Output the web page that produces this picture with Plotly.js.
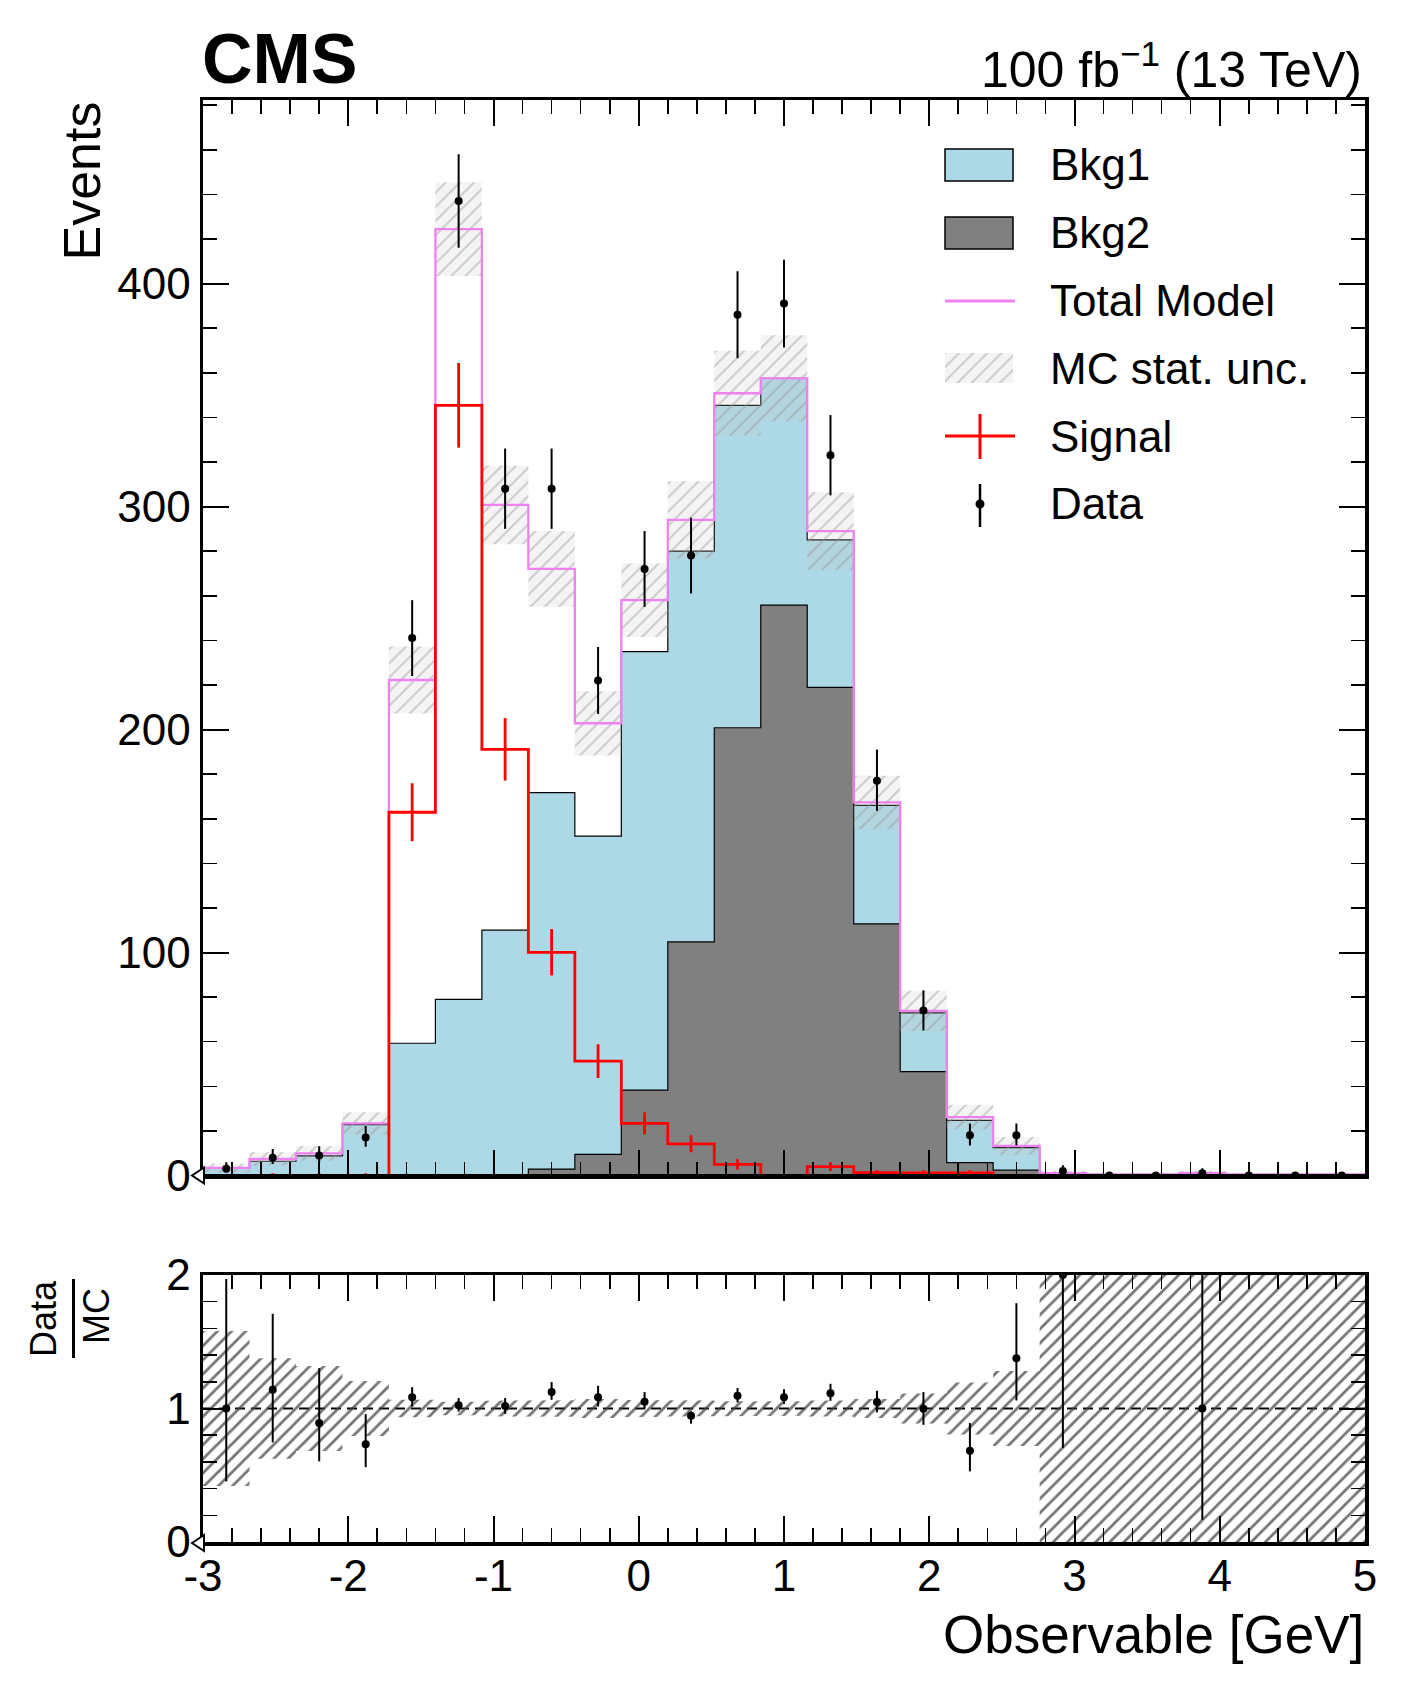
<!DOCTYPE html>
<html>
<head>
<meta charset="utf-8">
<script src="https://cdn.plot.ly/plotly-3.0.1.min.js"></script>
<style>
  html, body { margin: 0; padding: 0; background: #fff; }
  #mainPlot { width: 1406px; height: 1694px; }
</style>
</head>
<body>
<div id="mainPlot"></div>
<script>
MAINPLOT = document.getElementById('mainPlot');

// 25 bins of width 0.32 from -3 to 5
let edges = [-3, -2.68, -2.36, -2.04, -1.72, -1.4, -1.08, -0.76, -0.44, -0.12, 0.2, 0.52, 0.84,
             1.16, 1.48, 1.8, 2.12, 2.44, 2.76, 3.08, 3.4, 3.72, 4.04, 4.36, 4.68, 5];
let centers = [-2.84, -2.52, -2.2, -1.88, -1.56, -1.24, -0.92, -0.6, -0.28, 0.04, 0.36, 0.68, 1.0,
               1.32, 1.64, 1.96, 2.28, 2.6, 2.92, 3.24, 3.56, 3.88, 4.2, 4.52, 4.84];

// stacked backgrounds (Bkg2 at the bottom, Bkg1 on top)
let bkg2 = [0, 0, 0, 0, 0, 0, 0, 2.9, 9.5, 38.3, 104.8, 200.8, 255.8,
            218.9, 112.8, 46.6, 5.8, 2.4, 0.2, 0, 0, 0, 0, 0, 0];
let bkg1 = [3.2, 6.4, 8.8, 22.8, 59.3, 79.0, 110.0, 168.8, 142.7, 196.6, 175.2, 144.6, 101.7,
            66.1, 53.2, 26.3, 18.9, 10.1, 0.6, 0.3, 0.3, 0.9, 0.3, 0.2, 0.2];

let signal = [0, 0, 0, 0, 162.9, 345.4, 191.1, 100.1, 51.3, 23.4, 14.2, 5.0, 0,
              4.0, 1.3, 1.2, 1.2, 0, 0, 0, 0, 0, 0, 0, 0];
let signalErr = [0.5, 1.0, 1.0, 1.0, 13, 19, 14, 10.4, 7.6, 5, 3.8, 2.3, 0.4,
                 2, 1.1, 1.1, 1.1, 0.5, 0, 0, 0, 0, 0, 0, 0];

let totalModel = [3.4, 7.4, 9.9, 23.4, 222.2, 424.4, 300.7, 272.0, 202.8, 258.0, 294.0, 350.8, 357.5,
                  289.0, 167.3, 73.8, 26.2, 13.3, 1.0, 0.5, 0.5, 1.0, 0.5, 0.5, 0.5];
let mcStatUnc = [2.0, 3.0, 3.3, 5.0, 15, 21, 17.6, 17, 14.4, 16.5, 17.3, 19, 19.3,
                 17.4, 12, 9, 5.5, 4, 1.0, 0.6, 0.6, 1.0, 0.6, 0.5, 0.5];

let data = [3, 8, 9, 17, 241, 437, 308, 308, 222, 272, 278, 386, 391,
            323, 177, 74, 18, 18, 2, 0, 0, 1, 0, 0, 0];
let dataErrUp = [2.9, 3.9, 4.1, 5.2, 17, 21, 18, 18, 15, 17, 17, 19.5, 19.7,
                 18, 14, 9, 5.3, 5.3, 2.6, 0, 0, 2.3, 0, 0, 0];
let dataErrDown = [1.6, 2.8, 3.0, 4.1, 17, 21, 18, 18, 15, 17, 17, 19.5, 19.7,
                   18, 13.5, 9, 4.5, 4.4, 1.3, 0, 0, 0.83, 0, 0, 0];

// ratio panel, read from the lower pad
let ratio = [1.00, 1.14, 0.891, 0.733, 1.085, 1.025, 1.018, 1.123, 1.085, 1.050, 0.946, 1.095, 1.085,
             1.115, 1.048, 0.998, 0.684, 1.377, 2.0, null, null, 1.0, null, null, null];
let ratioErrUp = [0.97, 0.569, 0.411, 0.225, 0.075, 0.053, 0.06, 0.075, 0.085, 0.073, 0.032, 0.058, 0.06,
                  0.07, 0.085, 0.125, 0.207, 0.412, 2.64, 0, 0, 1.3, 0, 0, 0];
let ratioErrDown = [0.546, 0.394, 0.287, 0.172, 0.07, 0.047, 0.058, 0.058, 0.07, 0.052, 0.06, 0.05, 0.052,
                    0.057, 0.077, 0.12, 0.155, 0.317, 1.296, 0, 0, 0.833, 0, 0, 0];
let ratioBand = [0.58, 0.377, 0.318, 0.206, 0.065, 0.05, 0.058, 0.062, 0.071, 0.064, 0.059, 0.054, 0.054,
                 0.06, 0.072, 0.112, 0.195, 0.28, 1.0, 1.5, 1.5, 1.0, 1.5, 1.5, 1.5];

let xTickVals = [-3, -2, -1, 0, 1, 2, 3, 4, 5];
let xTickText = ['-3', '-2', '-1', '0', '1', '2', '3', '4', '5'];

const FONT = 'Liberation Sans, Arial, Helvetica, sans-serif';

// page pixels -> paper coords (plot area is 203..1365 x 100..1542)
function px2x(px) { return (px - 203) / 1162; }
function py2y(py) { return (1542 - py) / 1442; }

function stepY(vals) { return vals.concat([vals[vals.length - 1]]); }

function bandPoly(mid, half) {
    let xs = [], ys = [];
    for (let i = 0; i < mid.length; i++) {
        xs.push(edges[i], edges[i + 1]);
        ys.push(mid[i] + half[i], mid[i] + half[i]);
    }
    for (let i = mid.length - 1; i >= 0; i--) {
        xs.push(edges[i + 1], edges[i]);
        ys.push(mid[i] - half[i], mid[i] - half[i]);
    }
    xs.push(xs[0]);
    ys.push(ys[0]);
    return {x: xs, y: ys};
}

let stackTop = bkg2.map((v, i) => v + bkg1[i]);
let mainBand = bandPoly(totalModel, mcStatUnc);
let ones = centers.map(() => 1);
let rBand = bandPoly(ones, ratioBand);

let lightHatch = {shape: '/', fgcolor: 'rgba(150,150,150,0.45)', bgcolor: 'rgba(200,200,200,0.2)',
                  size: 10, solidity: 0.2};

var traces = [
    {   // Bkg2
        x: edges, y: stepY(bkg2), type: 'scatter', mode: 'lines',
        line: {shape: 'hv', color: 'black', width: 1.2},
        fill: 'tozeroy', fillcolor: '#808080', hoverinfo: 'skip'
    },
    {   // Bkg1 stacked on Bkg2
        x: edges, y: stepY(stackTop), type: 'scatter', mode: 'lines',
        line: {shape: 'hv', color: 'black', width: 1.2},
        fill: 'tonexty', fillcolor: '#ADD8E6', hoverinfo: 'skip'
    },
    {   // MC stat. unc.
        x: mainBand.x, y: mainBand.y, type: 'scatter', mode: 'lines',
        line: {width: 0, color: 'rgba(0,0,0,0)'},
        fill: 'toself', fillcolor: 'rgba(0,0,0,0)', fillpattern: lightHatch, hoverinfo: 'skip'
    },
    {   // Total Model
        x: edges, y: stepY(totalModel), type: 'scatter', mode: 'lines',
        line: {shape: 'hv', color: '#EE82EE', width: 2.3}
    },
    {   // Signal step
        x: edges, y: stepY(signal), type: 'scatter', mode: 'lines',
        line: {shape: 'hv', color: 'red', width: 2.8}
    },
    {   // Signal error bars
        x: centers, y: signal, type: 'scatter', mode: 'markers',
        marker: {size: 1, color: 'red'},
        error_y: {type: 'data', array: signalErr, color: 'red', thickness: 2.8, width: 0}
    },
    {   // Data
        x: centers, y: data, type: 'scatter', mode: 'markers',
        marker: {size: 8, color: 'black'},
        error_y: {type: 'data', symmetric: false, array: dataErrUp, arrayminus: dataErrDown,
                  color: 'black', thickness: 2, width: 0}
    },
    {   // ratio band
        x: rBand.x, y: rBand.y, xaxis: 'x2', yaxis: 'y2', type: 'scatter', mode: 'lines',
        line: {width: 0, color: 'rgba(0,0,0,0)'},
        fill: 'toself', fillcolor: 'rgba(0,0,0,0)',
        fillpattern: {shape: '/', fgcolor: 'rgba(70,70,70,0.75)', bgcolor: 'rgba(255,255,255,0)',
                      size: 10, solidity: 0.28},
        hoverinfo: 'skip'
    },
    {   // ratio points
        x: centers, y: ratio, xaxis: 'x2', yaxis: 'y2', type: 'scatter', mode: 'markers',
        marker: {size: 8, color: 'black'},
        error_y: {type: 'data', symmetric: false, array: ratioErrUp, arrayminus: ratioErrDown,
                  color: 'black', thickness: 2, width: 0}
    },
    {   // legend swatch for the hatch, on its own tiny axes
        x: [0, 1, 1, 0, 0], y: [0, 0, 1, 1, 0], xaxis: 'x3', yaxis: 'y3', type: 'scatter', mode: 'lines',
        line: {width: 0, color: 'rgba(0,0,0,0)'},
        fill: 'toself', fillcolor: 'rgba(0,0,0,0)', fillpattern: lightHatch, hoverinfo: 'skip'
    }
];

function xAxis(anchor, labels) {
    return {
        anchor: anchor, domain: [0, 1], range: [-3, 5], autorange: false,
        showline: true, linecolor: 'black', linewidth: 3.5, mirror: 'allticks',
        ticks: 'inside', ticklen: 26, tickwidth: 2, tickcolor: 'black',
        tickmode: 'array', tickvals: xTickVals, ticktext: xTickText,
        showticklabels: labels, tickfont: {family: FONT, size: 44, color: 'black'},
        ticklabelstandoff: -7,
        minor: {tickmode: 'linear', tick0: -3, dtick: 0.2, ticks: 'inside', ticklen: 14,
                tickwidth: 1.6, tickcolor: 'black', showgrid: false},
        showgrid: false, zeroline: false, automargin: false
    };
}

function yAxis(anchor, domain, range, dtick, minorDtick) {
    return {
        anchor: anchor, domain: domain, range: range, autorange: false,
        showline: true, linecolor: 'black', linewidth: 3.5, mirror: 'allticks',
        ticks: 'inside', ticklen: 26, tickwidth: 2, tickcolor: 'black',
        tick0: 0, dtick: dtick,
        tickfont: {family: FONT, size: 44, color: 'black'},
        minor: {tick0: 0, dtick: minorDtick, ticks: 'inside', ticklen: 14,
                tickwidth: 1.6, tickcolor: 'black', showgrid: false},
        showgrid: false, zeroline: false, automargin: false
    };
}

function label(text, px, py, size, opts) {
    return Object.assign({
        text: text, xref: 'paper', yref: 'paper', x: px2x(px), y: py2y(py),
        xanchor: 'left', yanchor: 'middle', showarrow: false,
        font: {family: FONT, size: size, color: 'black'}
    }, opts || {});
}

function rect(x0, y0, x1, y1, fill) {
    return {type: 'rect', xref: 'paper', yref: 'paper', x0: px2x(x0), x1: px2x(x1),
            y0: py2y(y0), y1: py2y(y1), fillcolor: fill, line: {color: 'black', width: 1.5}};
}

function seg(x0, y0, x1, y1, color, width, dash) {
    return {type: 'line', xref: 'paper', yref: 'paper', x0: px2x(x0), x1: px2x(x1),
            y0: py2y(y0), y1: py2y(y1), line: {color: color, width: width, dash: dash || 'solid'}};
}

function leftArrow(py) {
    let p = 'M ' + px2x(192) + ',' + py2y(py) + ' L ' + px2x(204) + ',' + py2y(py - 8) +
            ' L ' + px2x(204) + ',' + py2y(py + 8) + ' Z';
    return {type: 'path', xref: 'paper', yref: 'paper', path: p, fillcolor: 'white',
            line: {color: 'black', width: 2}};
}

var layout = {
    width: 1406, height: 1694,
    margin: {l: 203, r: 41, t: 100, b: 152, pad: 0},
    paper_bgcolor: 'white', plot_bgcolor: 'rgba(0,0,0,0)',
    showlegend: false,
    font: {family: FONT, color: 'black'},
    xaxis: xAxis('y', false),
    yaxis: yAxis('x', [py2y(1175.5), 1], [0, 482.3], 100, 20),
    xaxis2: xAxis('y2', true),
    yaxis2: yAxis('x2', [0, py2y(1275)], [0, 2], 1, 0.2),
    xaxis3: {domain: [px2x(945), px2x(1013)], range: [0, 1], anchor: 'y3', visible: false, fixedrange: true},
    yaxis3: {domain: [py2y(383), py2y(353)], range: [0, 1], anchor: 'x3', visible: false, fixedrange: true},
    shapes: [
        {type: 'line', xref: 'paper', yref: 'y2', x0: 0, x1: 1, y0: 1, y1: 1, layer: 'below',
         line: {color: 'black', width: 2.2, dash: '10px,6px'}},
        // keeps zero-height steps hidden under the bottom axis line
        {type: 'line', xref: 'paper', yref: 'paper', x0: 0, x1: 1, y0: py2y(1175.5), y1: py2y(1175.5),
         layer: 'above', line: {color: 'black', width: 2.8}},
        rect(945, 149, 1013, 181, '#ADD8E6'),
        rect(945, 217, 1013, 249, '#808080'),
        seg(945, 301, 1015, 301, '#EE82EE', 3),
        seg(945, 436, 1015, 436, 'red', 3),
        seg(980, 414, 980, 459, 'red', 3),
        seg(980, 484, 980, 527, 'black', 2.5),
        {type: 'circle', xref: 'paper', yref: 'paper', x0: px2x(975.5), x1: px2x(984.5),
         y0: py2y(508.5), y1: py2y(499.5), fillcolor: 'black', line: {color: 'black', width: 0}},
        seg(73.5, 1279, 73.5, 1358, 'black', 3),
        leftArrow(1175.5),
        leftArrow(1543)
    ],
    annotations: [
        label('<b>CMS</b>', 200, 59, 70),
        label('100 fb<sup>\u22121</sup> (13 TeV)', 1364, 66, 50, {xanchor: 'right'}),
        label('Events', 81, 100, 52, {textangle: -90, xanchor: 'center', yanchor: 'top', y: 1}),
        label('Observable [GeV]', 1366, 1634, 53, {xanchor: 'right'}),
        label('Data', 43.5, 1318.5, 36, {textangle: -90, xanchor: 'center'}),
        label('MC', 96.5, 1316.5, 36, {textangle: -90, xanchor: 'center'}),
        label('Bkg1', 1048, 165, 44),
        label('Bkg2', 1048, 233, 44),
        label('Total Model', 1048, 300, 44),
        label('MC stat. unc.', 1048, 368, 44),
        label('Signal', 1048, 436, 44),
        label('Data', 1048, 503, 44)
    ]
};

Plotly.newPlot(MAINPLOT, traces, layout, {staticPlot: true});
</script>
</body>
</html>
